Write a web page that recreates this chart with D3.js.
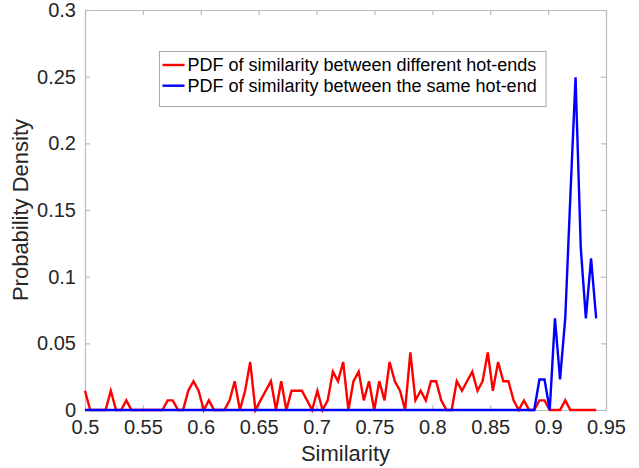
<!DOCTYPE html>
<html>
<head>
<meta charset="utf-8">
<script src="https://cdn.jsdelivr.net/npm/d3@7"></script>
<style>
  body { margin: 0; background: #fff; }
  svg { display: block; font-family: "Liberation Sans", Arial, Helvetica, sans-serif; }
</style>
</head>
<body>
<svg id="chart"></svg>
<script>
// similarity bins (x)
const similarity = [
  0.5000, 0.5045, 0.5089, 0.5134, 0.5178, 0.5223, 0.5268, 0.5312, 0.5357, 0.5401,
  0.5446, 0.5491, 0.5535, 0.5580, 0.5624, 0.5669, 0.5714, 0.5758, 0.5803, 0.5847,
  0.5892, 0.5937, 0.5981, 0.6026, 0.6070, 0.6115, 0.6160, 0.6204, 0.6249, 0.6293,
  0.6338, 0.6383, 0.6427, 0.6472, 0.6516, 0.6561, 0.6606, 0.6650, 0.6695, 0.6739,
  0.6784, 0.6829, 0.6873, 0.6918, 0.6962, 0.7007, 0.7052, 0.7096, 0.7141, 0.7185,
  0.7230, 0.7275, 0.7319, 0.7364, 0.7408, 0.7453, 0.7498, 0.7542, 0.7587, 0.7631,
  0.7676, 0.7721, 0.7765, 0.7810, 0.7854, 0.7899, 0.7944, 0.7988, 0.8033, 0.8077,
  0.8122, 0.8167, 0.8211, 0.8256, 0.8300, 0.8345, 0.8390, 0.8434, 0.8479, 0.8523,
  0.8568, 0.8613, 0.8657, 0.8702, 0.8746, 0.8791, 0.8836, 0.8880, 0.8925, 0.8969,
  0.9014, 0.9059, 0.9103, 0.9148, 0.9192, 0.9237, 0.9282, 0.9326, 0.9371, 0.9415
];

// PDF between different hot-ends (red)
const pdfDifferent = [
  0.0144, 0, 0, 0, 0, 0.0144, 0, 0, 0.0072, 0,
  0, 0, 0, 0, 0, 0, 0.0072, 0.0072, 0, 0,
  0.0144, 0.0216, 0.0144, 0, 0.0072, 0, 0, 0, 0.0072, 0.0216,
  0, 0.0144, 0.0360, 0, 0.0072, 0.0144, 0.0216, 0, 0.0216, 0,
  0.0144, 0.0144, 0.0144, 0.0072, 0, 0.0144, 0, 0.0072, 0.0288, 0.0216,
  0.0360, 0, 0.0216, 0.0288, 0.0072, 0.0216, 0, 0.0216, 0.0072, 0.0360,
  0.0216, 0.0144, 0, 0.0432, 0.0072, 0.0144, 0.0072, 0.0216, 0.0216, 0.0072,
  0, 0, 0.0216, 0.0144, 0.0216, 0.0288, 0.0144, 0.0216, 0.0432, 0.0144,
  0.0360, 0.0216, 0.0216, 0.0072, 0, 0.0072, 0, 0, 0.0072, 0.0072,
  0, 0, 0, 0.0072, 0, 0, 0, 0, 0, 0
];

// PDF within the same hot-end (blue)
const pdfSame = [
  0, 0, 0, 0, 0, 0, 0, 0, 0, 0,
  0, 0, 0, 0, 0, 0, 0, 0, 0, 0,
  0, 0, 0, 0, 0, 0, 0, 0, 0, 0,
  0, 0, 0, 0, 0, 0, 0, 0, 0, 0,
  0, 0, 0, 0, 0, 0, 0, 0, 0, 0,
  0, 0, 0, 0, 0, 0, 0, 0, 0, 0,
  0, 0, 0, 0, 0, 0, 0, 0, 0, 0,
  0, 0, 0, 0, 0, 0, 0, 0, 0, 0,
  0, 0, 0, 0, 0, 0, 0, 0, 0.0229, 0.0229,
  0, 0.0687, 0.0229, 0.0687, 0.1600, 0.2495, 0.1220, 0.0687, 0.1137, 0.0687
];

const xTicks = [0.5, 0.55, 0.6, 0.65, 0.7, 0.75, 0.8, 0.85, 0.9, 0.95];
const yTicks = [0, 0.05, 0.1, 0.15, 0.2, 0.25, 0.3];
const legendLabels = [
  "PDF of similarity between different hot-ends",
  "PDF of similarity between the same hot-end"
];
const seriesColors = ["#ff0000", "#0000ff"];

const width = 639, height = 468;
const margin = { top: 10, right: 33, bottom: 58, left: 85 };
const innerW = width - margin.left - margin.right,
      innerH = height - margin.top - margin.bottom;

const svg = d3.select("#chart")
    .attr("width", width)
    .attr("height", height);

svg.append("rect")
    .attr("width", width)
    .attr("height", height)
    .attr("fill", "#fff");

const g = svg.append("g")
    .attr("transform", `translate(${margin.left},${margin.top})`);

const x = d3.scaleLinear().domain([0.5, 0.95]).range([0, innerW]);
const y = d3.scaleLinear().domain([0, 0.3]).range([innerH, 0]);

const frameColor = "#bcbcbc";
const textColor = "#262626";

// axes box with inward ticks, MATLAB style
const fmt = d => String(+d.toFixed(2));

const xAxis = g.append("g")
    .attr("transform", `translate(0,${innerH})`)
    .call(d3.axisBottom(x).tickValues(xTicks).tickFormat(fmt).tickSizeInner(-5).tickSizeOuter(0).tickPadding(10));
const xAxisTop = g.append("g")
    .call(d3.axisTop(x).tickValues(xTicks).tickFormat("").tickSizeInner(-5).tickSizeOuter(0));
const yAxis = g.append("g")
    .call(d3.axisLeft(y).tickValues(yTicks).tickFormat(fmt).tickSizeInner(-5).tickSizeOuter(0).tickPadding(9));
const yAxisRight = g.append("g")
    .attr("transform", `translate(${innerW},0)`)
    .call(d3.axisRight(y).tickValues(yTicks).tickFormat("").tickSizeInner(-5).tickSizeOuter(0));

[xAxis, xAxisTop, yAxis, yAxisRight].forEach(a => {
    a.select(".domain").attr("stroke", frameColor).attr("stroke-width", 1.2);
    a.selectAll(".tick line").attr("stroke", frameColor).attr("stroke-width", 1.2);
    a.selectAll(".tick text")
        .attr("fill", textColor)
        .style("font-size", "20px")
        .style("font-family", "'Liberation Sans', Arial, sans-serif");
});

// data lines
const line = d3.line()
    .x((d, i) => x(similarity[i]))
    .y(d => y(d));

[pdfDifferent, pdfSame].forEach((series, k) => {
    g.append("path")
        .datum(series)
        .attr("fill", "none")
        .attr("stroke", seriesColors[k])
        .attr("stroke-width", 2.4)
        .attr("stroke-linejoin", "miter")
        .attr("d", line);
});

// axis labels
svg.append("text")
    .attr("x", margin.left + innerW / 2)
    .attr("y", 461)
    .attr("text-anchor", "middle")
    .attr("fill", textColor)
    .style("font-size", "22px")
    .text("Similarity");

svg.append("text")
    .attr("transform", `translate(28,${margin.top + innerH / 2}) rotate(-90)`)
    .attr("text-anchor", "middle")
    .attr("fill", textColor)
    .style("font-size", "22px")
    .text("Probability Density");

// legend
const legend = svg.append("g").attr("transform", "translate(159.5,51.5)");
legend.append("rect")
    .attr("width", 386.5)
    .attr("height", 55)
    .attr("fill", "#fff")
    .attr("stroke", "#a8a8a8")
    .attr("stroke-width", 1);

legendLabels.forEach((label, i) => {
    const ly = 13.5 + i * 20.7;
    legend.append("line")
        .attr("x1", 3).attr("x2", 25)
        .attr("y1", ly).attr("y2", ly)
        .attr("stroke", seriesColors[i])
        .attr("stroke-width", 2.4);
    legend.append("text")
        .attr("x", 28)
        .attr("y", ly)
        .attr("dy", "0.35em")
        .attr("fill", "#000")
        .style("font-size", "18px")
        .text(label);
});
</script>
</body>
</html>
